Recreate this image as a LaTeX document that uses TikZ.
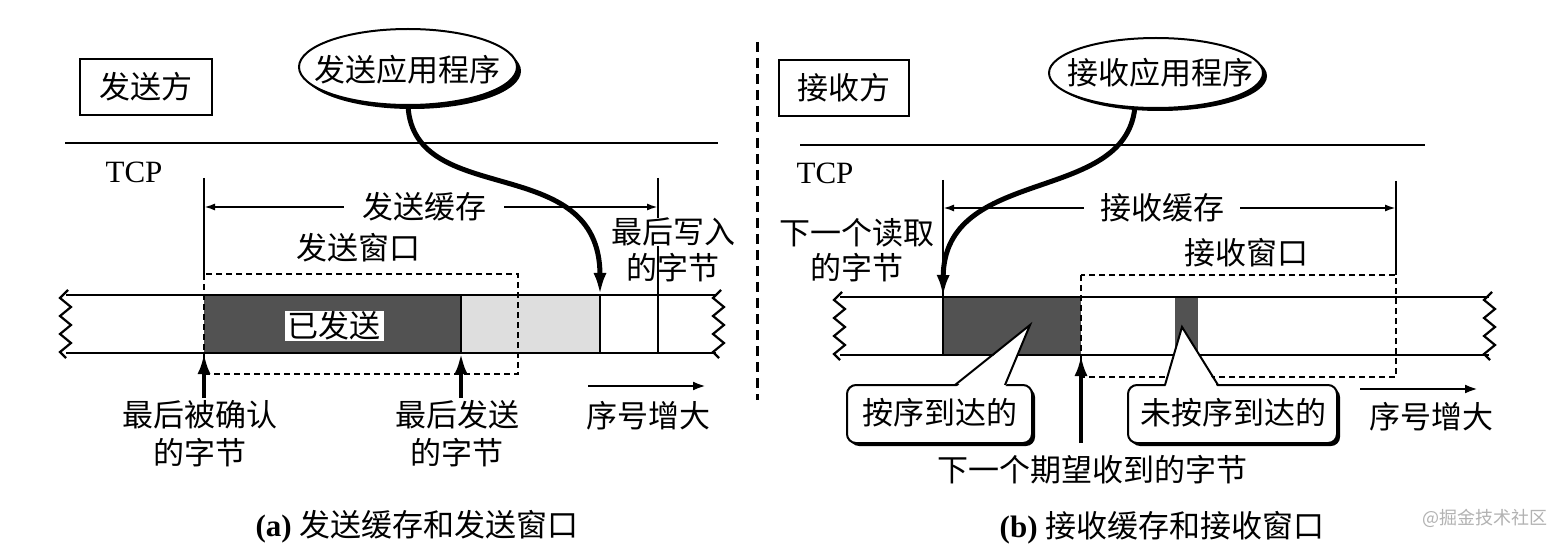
\documentclass[tikz,border=0pt]{standalone}
\usepackage{fontspec}
\setmainfont{Liberation Serif}
\newfontfamily\cjk{Noto Sans CJK SC}
\usetikzlibrary{arrows.meta,shapes.geometric}
\tikzset{
  lbl/.style={font=\cjk\fontsize{31}{33}\selectfont, inner sep=0pt},
  barln/.style={line width=2.2pt},
  thinln/.style={line width=2pt},
  winbox/.style={line width=1.8pt, dash pattern=on 6pt off 4pt},
  bigarrow/.style={line width=5pt, -{Latex[length=22pt,width=13pt]}},
  uparrow/.style={line width=4.6pt, -{Latex[length=21pt,width=13pt]}},
  bufarrow/.style={line width=2pt, {Latex[length=11pt,width=7pt]}-{Latex[length=11pt,width=7pt]}},
  seqarrow/.style={line width=2.8pt, -{Latex[length=13pt,width=9pt]}},
  appell/.style={ellipse, draw, line width=2pt, fill=white, inner sep=0pt},
  appsh/.style={ellipse, fill=black, inner sep=0pt},
  sidebox/.style={draw, line width=2.4pt, inner sep=0pt},
  callbox/.style={draw, line width=2pt, rounded corners=9pt, fill=white, inner sep=0pt},
  callsh/.style={fill=black, rounded corners=9pt, inner sep=0pt},
  wavy/.pic={\draw[line width=2.2pt, line join=miter] (3,-5) -- (-5,3) -- (6,12) -- (-5,21) -- (6,30) -- (-5,39) -- (6,48) -- (-5,57) -- (1,63);}
}
\begin{document}
\begin{tikzpicture}[x=1pt,y=-1pt]
\useasboundingbox[fill=white] (0,0) rectangle (1563,545);

%================ LEFT PANEL =================
\node[sidebox, minimum width=132pt, minimum height=56pt] (sbox) at (146,87) {};
\node[lbl] (sboxt) at (sbox.center) {发送方};

\node[appsh, minimum width=218pt, minimum height=76pt] (sappsh) at (412,71) {};
\node[appell, minimum width=218pt, minimum height=76pt] (sapp) at (408,67) {};
\node[lbl] (sappt) at (407,70) {发送应用程序};

\coordinate (sl1) at (65,143);
\coordinate (sl2) at (718,143);
\draw[thinln] (sl1) -- (sl2);
\node[font=\fontsize{31}{33}\selectfont, inner sep=0pt] (stcp) at (134,172) {TCP};

% fills
\fill[black!68] (204,295) rectangle (461,353);
\fill[black!13] (461,295) rectangle (600,353);
% bar lines
\draw[barln] (66,295) -- (716,295);
\draw[barln] (66,353) -- (716,353);
\pic at (65,295) {wavy};
\pic at (718,295) {wavy};
% vertical lines
\coordinate (sv1a) at (204,178);
\coordinate (sv1b) at (204,274);
\coordinate (sv2a) at (658,178);
\coordinate (sv2b) at (658,353);
\coordinate (sv3a) at (600,295);
\coordinate (sv3b) at (600,353);
\draw[thinln] (sv1a) -- (sv1b);
\draw[thinln] (sv2a) -- (sv2b);
\draw[thinln] (sv3a) -- (sv3b);
\draw[thinln] (461,295) -- (461,353);
% send window
\draw[winbox] (204,274) rectangle (518,374);
\node[lbl] (swin) at (358,248) {发送窗口};
% send buffer arrow
\coordinate (sb1) at (204,207);
\coordinate (sb2) at (658,207);
\draw[bufarrow] (sb1) -- (sb2);
\node[lbl, fill=white, inner xsep=18pt, inner ysep=2pt] (sbuf) at (424,207) {发送缓存};
% sent label
\node[lbl, fill=white, inner xsep=3pt, inner ysep=1pt] (ssent) at (334,326) {已发送};
% last written
\node[lbl, fill=white, inner sep=0pt] (slw1) at (673,232) {最后写入};
\node[lbl] (slw2) at (673,268) {的字节};
\draw[thinln] (658,250) -- (658,280);
% app arrow
\coordinate (swr) at (600,295);
\draw[bigarrow] (sapp.south) .. controls (414,210) and (600,150) .. (swr);
% up arrows
\coordinate (sack) at (204,353);
\coordinate (sack0) at (204,398);
\coordinate (ssnd) at (461,353);
\coordinate (ssnd0) at (461,398);
\draw[uparrow] (sack0) -- (sack);
\draw[uparrow] (ssnd0) -- (ssnd);
\node[lbl] (sackt1) at (200,415) {最后被确认};
\node[lbl] (sackt2) at (200,453) {的字节};
\node[lbl] (ssndt1) at (457,415) {最后发送};
\node[lbl] (ssndt2) at (457,453) {的字节};
% sequence arrow
\coordinate (ssq1) at (588,386);
\coordinate (ssq2) at (706,386);
\draw[seqarrow] (ssq1) -- (ssq2);
\node[lbl] (ssqt) at (648,416) {序号增大};
% caption
\node[inner sep=0pt, font=\fontsize{31}{33}\selectfont] (scap) at (417,527) {\textbf{(a)} {\cjk 发送缓存和发送窗口}};

%================ DIVIDER =================
\coordinate (div1) at (757,42);
\coordinate (div2) at (757,400);
\draw[line width=3pt, dash pattern=on 10pt off 6pt] (div1) -- (div2);

%================ RIGHT PANEL =================
\node[sidebox, minimum width=130pt, minimum height=56pt] (rbox) at (844,88) {};
\node[lbl] (rboxt) at (rbox.center) {接收方};

\node[appsh, minimum width=214pt, minimum height=70pt] (rappsh) at (1160,76) {};
\node[appell, minimum width=214pt, minimum height=70pt] (rapp) at (1156,73) {};
\node[lbl] (rappt) at (1160,73) {接收应用程序};

\coordinate (rl1) at (800,145);
\coordinate (rl2) at (1425,145);
\draw[thinln] (rl1) -- (rl2);
\node[font=\fontsize{31}{33}\selectfont, inner sep=0pt] (rtcp) at (825,173) {TCP};

% fills
\fill[black!68] (943,297) rectangle (1081,355);
\fill[black!68] (1175,297) rectangle (1198,355);
\draw[barln] (840,297) -- (1489,297);
\draw[barln] (840,355) -- (1489,355);
\pic at (839,297) {wavy};
\pic at (1489,297) {wavy};
% vertical lines
\coordinate (rv1a) at (943,180);
\coordinate (rv1b) at (943,355);
\coordinate (rv2a) at (1396,181);
\coordinate (rv2b) at (1396,275);
\draw[thinln] (rv1a) -- (rv1b);
\draw[thinln] (rv2a) -- (rv2b);
% receive window
\draw[winbox] (1081,275) rectangle (1396,377);
\node[lbl] (rwin) at (1246,253) {接收窗口};
% buffer arrow
\coordinate (rb1) at (943,208);
\coordinate (rb2) at (1396,208);
\draw[bufarrow] (rb1) -- (rb2);
\node[lbl, fill=white, inner xsep=16pt, inner ysep=2pt] (rbuf) at (1162,208) {接收缓存};
% next read
\node[lbl] (rnr1) at (857,233) {下一个读取};
\node[lbl] (rnr2) at (857,268) {的字节};
% app arrow
\coordinate (rrd) at (943,297);
\draw[bigarrow] (rapp.-121) .. controls (1124,205) and (944,165) .. (rrd);
% next expected
\coordinate (rexp) at (1081,355);
\coordinate (rexp0) at (1081,443);
\draw[uparrow] (rexp0) -- (rexp);
\node[lbl] (rexpt) at (1092,470) {下一个期望收到的字节};
% callout 1
\node[callsh, minimum width=185pt, minimum height=58pt] (c1sh) at (942.5,417) {};
\node[callbox, minimum width=185pt, minimum height=58pt] (c1) at (939.5,414) {};
\fill[white] (955,388) -- (1030,325) -- (1005,388) -- cycle;
\draw[thinln, line join=miter] (955,385) -- (1030,325) -- (1005,385);
\node[lbl] (c1t) at (940,413) {按序到达的};
% callout 2
\node[callsh, minimum width=209pt, minimum height=58pt] (c2sh) at (1235.5,417) {};
\node[callbox, minimum width=209pt, minimum height=58pt] (c2) at (1232.5,414) {};
\fill[white] (1165,388) -- (1182,327) -- (1218,388) -- cycle;
\draw[thinln, line join=miter] (1165,385) -- (1182,327) -- (1218,385);
\node[lbl] (c2t) at (1233,413) {未按序到达的};
% sequence arrow
\coordinate (rsq1) at (1360,389);
\coordinate (rsq2) at (1478,389);
\draw[seqarrow] (rsq1) -- (rsq2);
\node[lbl] (rsqt) at (1431,417) {序号增大};
% caption
\node[inner sep=0pt, font=\fontsize{31}{33}\selectfont] (rcap) at (1162,528) {\textbf{(b)} {\cjk 接收缓存和接收窗口}};
% watermark
\node[inner sep=0pt, font=\cjk\fontsize{18}{20}\selectfont, text=black!30] (wm) at (1485,518) {@掘金技术社区};
\end{tikzpicture}
\end{document}
